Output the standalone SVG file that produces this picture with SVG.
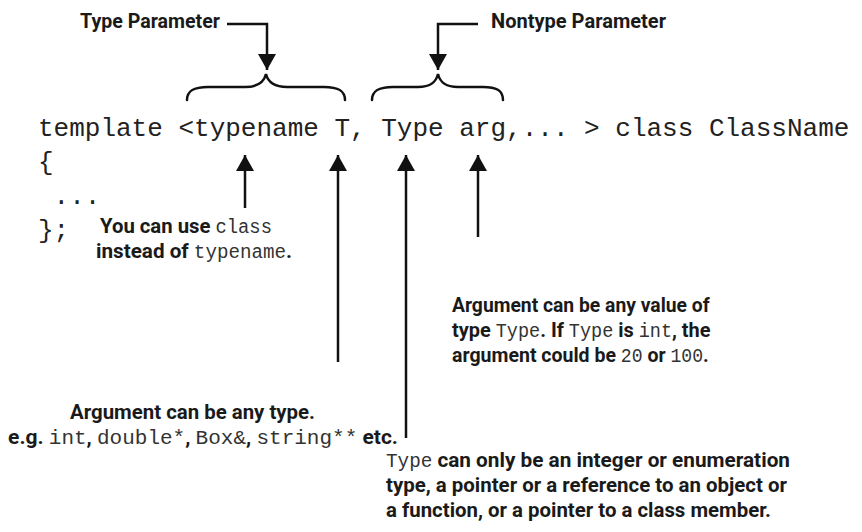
<svg xmlns="http://www.w3.org/2000/svg" width="862" height="532" viewBox="0 0 862 532">
<style>
.code{font-family:"Liberation Mono","DejaVu Sans Mono",monospace;font-size:26px;fill:#222}
.ann{font-family:Roboto,"Liberation Sans",sans-serif;font-weight:bold;font-size:21px;fill:#1a1a1a}
.m{font-family:"Liberation Mono","DejaVu Sans Mono",monospace;font-weight:normal;font-size:19.5px;fill:#333}
.ln{fill:none;stroke:#111;stroke-width:2.5}
.br{fill:none;stroke:#111;stroke-width:2.5;stroke-linecap:round}
</style>
<defs>
<marker id="ah" viewBox="0 0 16 18" refX="16" refY="9" markerWidth="16" markerHeight="18" markerUnits="userSpaceOnUse" orient="auto">
<path d="M0,0 L16,9 L0,18 z" fill="#111"/>
</marker>
</defs>
<g id="code">
<text class="code" x="38" y="136" xml:space="preserve">template &lt;typename T, Type arg,... &gt; class ClassName</text>
<text class="code" x="38" y="170">{</text>
<text class="code" x="38" y="204" xml:space="preserve"> ...</text>
<text class="code" x="38" y="238">};</text>
</g>
<g id="braces">
<path class="br" d="M187,100 C187,90 195,87 208,87 L245,87 C258,87 264,82 266,74 C268,82 274,87 287,87 L324,87 C337,87 345,90 345,100"/>
<path class="br" d="M372,100 C372,90 380,87 393,87 L418,87 C431,87 436,82 438,74 C440,82 445,87 458,87 L483,87 C496,87 503,90 503,100"/>
</g>
<g id="type-parameter">
<text class="ann" x="80" y="28" textLength="140" lengthAdjust="spacingAndGlyphs">Type Parameter</text>
</g>
<g id="nontype-parameter">
<text class="ann" x="491" y="28" textLength="175" lengthAdjust="spacingAndGlyphs">Nontype Parameter</text>
</g>
<g id="note-class">
<text class="ann" x="100" y="233" textLength="172" lengthAdjust="spacingAndGlyphs">You can use <tspan class="m">class</tspan></text>
<text class="ann" x="96" y="258" textLength="196" lengthAdjust="spacingAndGlyphs">instead of <tspan class="m">typename</tspan>.</text>
</g>
<g id="note-arg-value">
<text class="ann" transform="translate(452,312) scale(0.92,1)" x="0" y="0">Argument can be any value of</text>
<text class="ann" transform="translate(452,337) scale(0.95,1)" x="0" y="0">type <tspan class="m">Type</tspan>. If <tspan class="m">Type</tspan> is <tspan class="m">int</tspan>, the</text>
<text class="ann" transform="translate(452,362) scale(0.93,1)" x="0" y="0">argument could be <tspan class="m">20</tspan> or <tspan class="m">100</tspan>.</text>
</g>
<g id="note-any-type">
<text class="ann" x="70" y="419" textLength="245" lengthAdjust="spacingAndGlyphs">Argument can be any type.</text>
<text class="ann" x="203" y="444" text-anchor="middle">e.g. <tspan class="m" style="font-size:21px">int</tspan>, <tspan class="m" style="font-size:21px">double*</tspan>, <tspan class="m" style="font-size:21px">Box&amp;</tspan>, <tspan class="m" style="font-size:21px">string**</tspan> etc.</text>
</g>
<g id="note-nontype">
<text class="ann" x="386" y="467" textLength="404" lengthAdjust="spacingAndGlyphs"><tspan class="m">Type</tspan> can only be an integer or enumeration</text>
<text class="ann" x="386" y="492" textLength="401" lengthAdjust="spacingAndGlyphs">type, a pointer or a reference to an object or</text>
<text class="ann" x="386" y="517" textLength="385" lengthAdjust="spacingAndGlyphs">a function, or a pointer to a class member.</text>
</g>
<g id="connectors">
<path class="ln" d="M227,24 H267 V70" marker-end="url(#ah)"/>
<path class="ln" d="M478,24 H438 V70" marker-end="url(#ah)"/>
<path class="ln" d="M245,208 V155" marker-end="url(#ah)"/>
<path class="ln" d="M338,362 V155" marker-end="url(#ah)"/>
<path class="ln" d="M406,438 V155" marker-end="url(#ah)"/>
<path class="ln" d="M478,237 V155" marker-end="url(#ah)"/>
</g>
</svg>
